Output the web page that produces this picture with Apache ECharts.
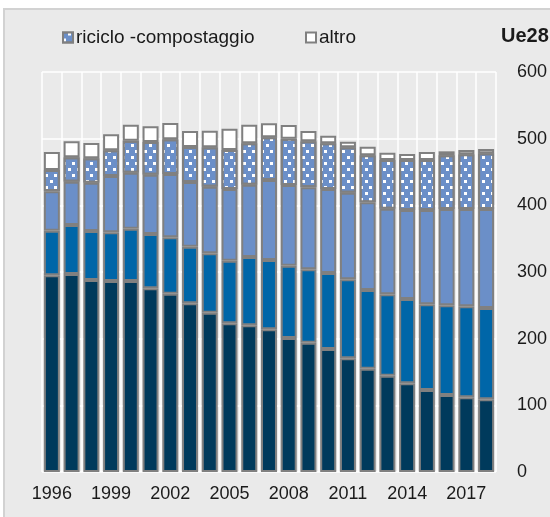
<!DOCTYPE html>
<html>
<head>
<meta charset="utf-8">
<script src="https://cdn.jsdelivr.net/npm/echarts@6/dist/echarts.min.js"></script>
<style>
  html, body { margin: 0; padding: 0; background: #ffffff; }
  #wrap { position: relative; width: 550px; height: 517px; overflow: hidden; }
  #panel { position: absolute; left: 3px; top: 8px; width: 560px; height: 520px;
           background: #eaeaea; border-left: 2px solid #d2d2d2; border-top: 2px solid #d2d2d2; }
  #mainChart { position: absolute; left: 0; top: 0; width: 550px; height: 517px; }
</style>
</head>
<body>
<div id="wrap">
  <div id="panel"></div>
  <div id="mainChart"></div>
</div>
<script>
// anni
const years = ["1996","1997","1998","1999","2000","2001","2002","2003","2004","2005","2006","2007",
  "2008","2009","2010","2011","2012","2013","2014","2015","2016","2017","2018"];
// kg per abitante
const discarica = [295, 297, 288, 286.5, 286.5, 275.5, 267.5, 253, 239, 223, 220, 214,
  201, 194, 184.5, 170.5, 155, 144.5, 133, 123, 115.5, 112, 109];
const incenerimento = [67, 73.5, 73.5, 73, 78.5, 81.5, 84.5, 85, 89, 94, 102.5, 104,
  108.5, 110, 114, 118.5, 118, 122, 126.5, 128.5, 134.5, 136.5, 137];
const riciclo = [59, 65, 72.5, 84.5, 84, 89, 95, 97, 100, 107.5, 108.5, 120,
  121, 123, 126, 130, 131.5, 128.5, 133.5, 141.5, 144.5, 146, 148.5];
const compostaggio = [32, 36.5, 36.5, 38.5, 48, 49, 52, 52.5, 59, 58.5, 62, 64,
  69.5, 69, 68.5, 68, 70.5, 73, 75, 75, 80.5, 82, 83.5];
const altro = [27, 24, 23, 24, 24, 23.5, 24.5, 24, 25, 32, 28, 21,
  20.5, 15.5, 11.5, 8.5, 13, 11, 9, 12, 6, 6.5, 6.5];
const yTicks = [0, 100, 200, 300, 400, 500, 600];

const font = "'Liberation Sans', Arial, sans-serif";
const border = "#808080";

const myChart = echarts.init(document.getElementById("mainChart"));

function barSeries(name, data, color, extra) {
  return Object.assign({
    name: name,
    type: "bar",
    stack: "tot",
    barWidth: 16,
    data: data,
    itemStyle: { color: color, borderColor: border, borderWidth: 2 },
  }, extra || {});
}

let option = {
  animation: false,
  backgroundColor: "transparent",
  textStyle: { fontFamily: font, color: "#1a1a1a" },
  title: {
    text: "Ue28",
    left: 496,
    top: 21,
    textStyle: { fontFamily: font, fontSize: 20, fontWeight: "bold", color: "#1a1a1a" },
  },
  legend: [
    {
      data: ["riciclo -compostaggio"],
      left: 57,
      top: 23,
      icon: "rect",
      itemWidth: 10,
      itemHeight: 10,
      textStyle: { fontFamily: font, fontSize: 19, color: "#1a1a1a", padding: [0, 0, 0, -2] },
    },
    {
      data: ["altro"],
      left: 300,
      top: 23,
      icon: "rect",
      itemWidth: 10,
      itemHeight: 10,
      textStyle: { fontFamily: font, fontSize: 19, color: "#1a1a1a", padding: [0, 0, 0, -2] },
    },
  ],
  grid: { left: 42, right: 44, top: 72, bottom: 45 },
  xAxis: {
    type: "category",
    data: years,
    axisLine: { show: false },
    axisTick: { show: false },
    axisLabel: { interval: 2, fontFamily: font, fontSize: 18, color: "#1a1a1a", margin: 13 },
    splitLine: { show: true, interval: 0, lineStyle: { color: "#ffffff", width: 1.5 } },
  },
  yAxis: {
    type: "value",
    position: "right",
    min: yTicks[0],
    max: yTicks[yTicks.length - 1],
    interval: 100,
    axisLine: { show: false },
    axisTick: { show: false },
    axisLabel: { fontFamily: font, fontSize: 18, color: "#1a1a1a", margin: 21 },
    splitLine: { lineStyle: { color: "#ffffff", width: 1.5 } },
  },
  series: [
    barSeries("discarica", discarica, "#003a5c"),
    barSeries("incenerimento", incenerimento, "#0066a8"),
    barSeries("riciclo", riciclo, "#6b8fc8"),
    barSeries("riciclo -compostaggio", compostaggio, "#6b8fc8", {
      itemStyle: {
        color: "#6b8fc8",
        borderColor: border,
        borderWidth: 2,
        decal: {
          symbol: "rect",
          symbolSize: 1,
          color: "#ffffff",
          dashArrayX: [[3, 6], [0, 5, 3, 1]],
          dashArrayY: [3, 3],
          rotation: 0,
        },
      },
    }),
    barSeries("altro", altro, "#ffffff"),
  ],
};

myChart.setOption(option);
</script>
</body>
</html>
